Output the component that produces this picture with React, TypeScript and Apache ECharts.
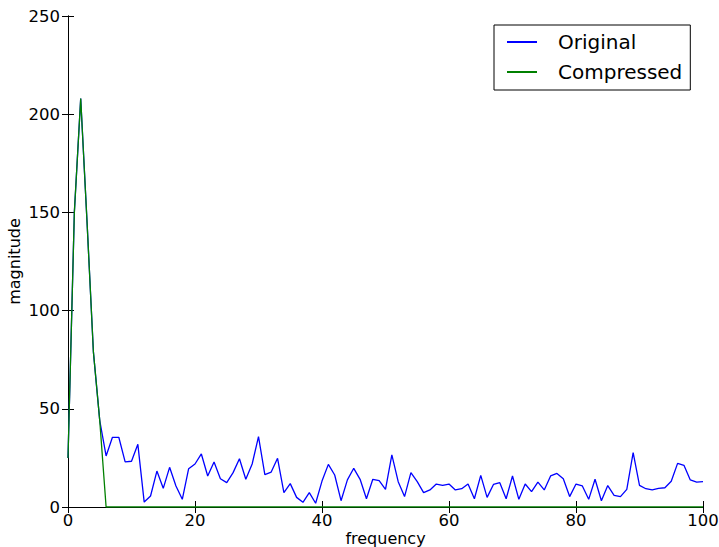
import React, { useEffect, useRef } from "react";
import * as echarts from "echarts";

const frequency: number[] = Array.from({ length: 101 }, (_, i) => i);

const original: number[] = [
  25, 150, 208, 145, 79, 44, 26, 35.5, 35.5, 23, 23.3, 31.9, 2.5, 5.6, 18.3, 9.5, 20.2, 10.7, 3.9, 19.5,
  21.9, 27, 15.8, 22.9, 14.4, 12.4, 17.5, 24.6, 14.1, 21.9, 35.8, 16.5, 17.8, 24.8, 7.3, 11.9, 4.9, 2.4, 7.3, 1.9,
  13.2, 21.7, 16.3, 3.2, 13.8, 19.7, 14.1, 4.2, 14.1, 13.4, 9, 26.5, 12.9, 5.3, 17.5, 12.9, 7.3, 8.7, 11.7, 11,
  11.7, 8.7, 9.3, 11.7, 4.2, 16.1, 4.9, 11.5, 12.4, 4.2, 15.8, 3.9, 11.7, 7.8, 12.7, 8.7, 15.8, 17.1, 14.4, 5.3,
  11.7, 10.7, 3.9, 14.1, 3.2, 10.9, 5.9, 5.3, 9, 27.7, 11, 9.3, 8.7, 9.5, 9.8, 13.1, 22.2, 21.2, 13.8, 12.7,
  12.9,
];

const compressed: number[] = [
  25, 150, 208, 145, 79, 44, 0, 0, 0, 0, 0, 0, 0, 0, 0, 0, 0, 0, 0, 0,
  0, 0, 0, 0, 0, 0, 0, 0, 0, 0, 0, 0, 0, 0, 0, 0, 0, 0, 0, 0,
  0, 0, 0, 0, 0, 0, 0, 0, 0, 0, 0, 0, 0, 0, 0, 0, 0, 0, 0, 0,
  0, 0, 0, 0, 0, 0, 0, 0, 0, 0, 0, 0, 0, 0, 0, 0, 0, 0, 0, 0,
  0, 0, 0, 0, 0, 0, 0, 0, 0, 0, 0, 0, 0, 0, 0, 0, 0, 0, 0, 0,
  0,
];

const seriesNames = ["Original", "Compressed"];
const FONT = "DejaVu Sans";

export default function App() {
  const ref = useRef<HTMLDivElement>(null);
  useEffect(() => {
    if (!ref.current) return;
    const chart = echarts.init(ref.current, null, { renderer: "svg" });
    const axisCommon = {
      type: "value" as const,
      axisLine: { show: true, lineStyle: { color: "#000", width: 1 } },
      axisTick: { show: true, inside: true, length: 6, lineStyle: { color: "#000", width: 1 } },
      splitLine: { show: false },
    };
    chart.setOption({
      animation: false,
      backgroundColor: "#fff",
      grid: { left: 68, right: 16, top: 16, bottom: 40, containLabel: false, outerBoundsMode: "none" },
      legend: {
        orient: "vertical",
        left: 494,
        top: 25,
        padding: [7, 8, 8, 13],
        itemGap: 10,
        itemWidth: 30,
        itemHeight: 2,
        icon: "rect",
        borderColor: "#000",
        borderWidth: 1,
        borderRadius: 0,
        backgroundColor: "#fff",
        textStyle: { fontFamily: FONT, fontSize: 20, color: "#000", padding: [0, 0, 0, 16] },
        data: seriesNames,
      },
      xAxis: [
        {
          ...axisCommon,
          min: 0,
          max: 100,
          interval: 20,
          name: "frequency",
          nameLocation: "middle",
          nameGap: 23,
          nameMoveOverlap: false,
          nameTextStyle: { fontFamily: FONT, fontSize: 16, color: "#000" },
          axisLabel: { fontFamily: FONT, fontSize: 16.5, color: "#000", margin: 5 },
        },
        {
          ...axisCommon,
          position: "top",
          min: 0,
          max: 100,
          interval: 20,
          axisLabel: { show: false },
        },
      ],
      yAxis: [
        {
          ...axisCommon,
          min: 0,
          max: 250,
          interval: 50,
          name: "magnitude",
          nameLocation: "middle",
          nameGap: 46,
          nameMoveOverlap: false,
          nameTextStyle: { fontFamily: FONT, fontSize: 16, color: "#000" },
          axisLabel: { fontFamily: FONT, fontSize: 16.5, color: "#000", margin: 8 },
        },
        {
          ...axisCommon,
          position: "right",
          min: 0,
          max: 250,
          interval: 50,
          axisLabel: { show: false },
        },
      ],
      series: [
        {
          name: seriesNames[0],
          type: "line",
          data: frequency.map((f, i) => [f, original[i]]),
          symbol: "none",
          lineStyle: { color: "#0000ff", width: 1.3 },
          itemStyle: { color: "#0000ff" },
          z: 2,
        },
        {
          name: seriesNames[1],
          type: "line",
          data: frequency.map((f, i) => [f, compressed[i]]),
          symbol: "none",
          lineStyle: { color: "#008000", width: 1.3 },
          itemStyle: { color: "#008000" },
          z: 3,
        },
      ],
    });
    return () => chart.dispose();
  }, []);
  return (
    <div
      ref={ref}
      style={{ position: "fixed", left: 0, top: 0, width: 719, height: 547, background: "#fff" }}
    />
  );
}
